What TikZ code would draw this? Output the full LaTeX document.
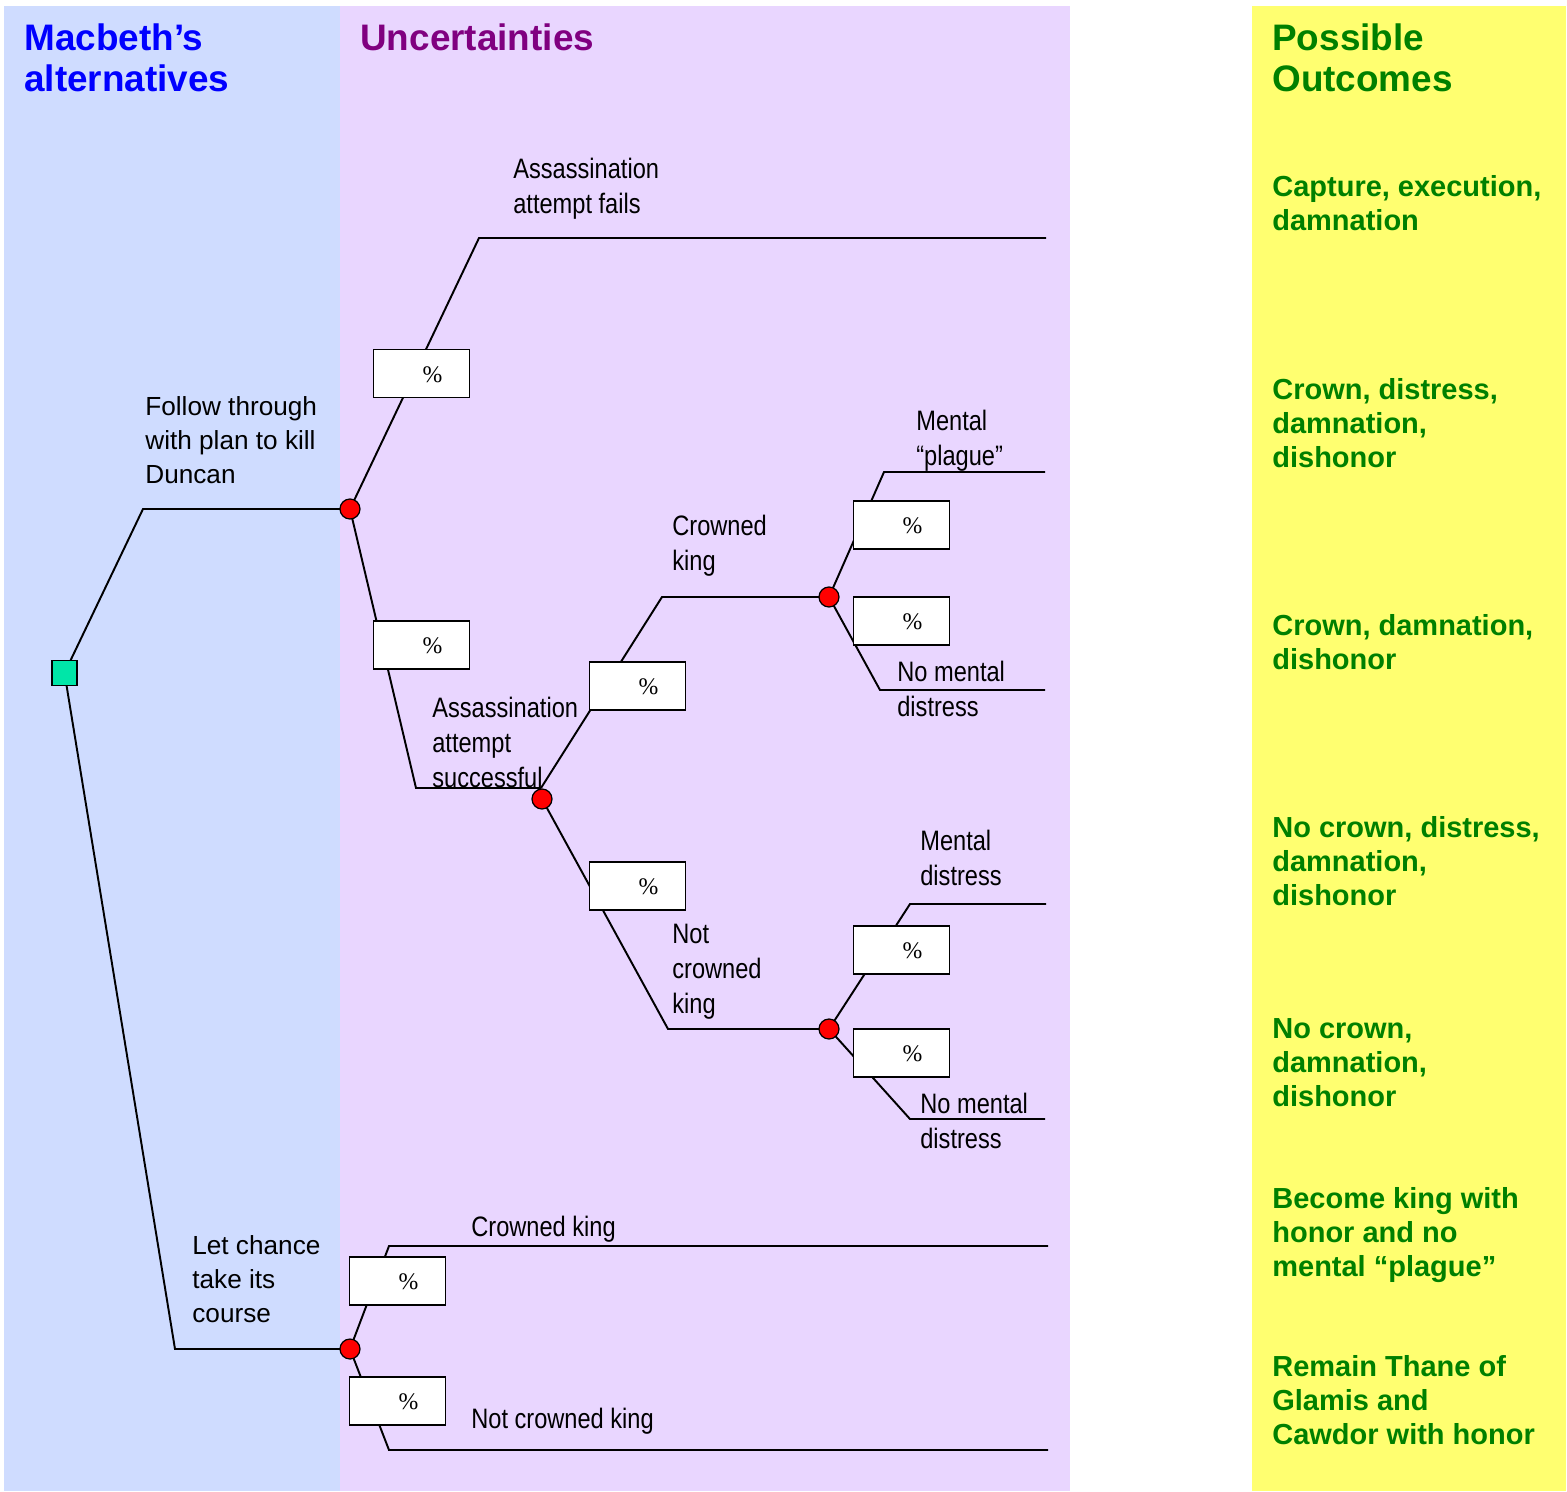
\documentclass[tikz,border=0pt]{standalone}
\usepackage{fontspec}
\usetikzlibrary{calc}
\setmainfont{Liberation Sans}
\newfontfamily\narrowfont[FakeStretch=0.84]{Liberation Sans}
\newfontfamily\pctfont{Liberation Serif}

\definecolor{altpanel}{RGB}{207,220,255}
\definecolor{uncpanel}{RGB}{233,214,255}
\definecolor{outpanel}{RGB}{255,255,112}
\definecolor{headblue}{RGB}{0,0,255}
\definecolor{headpurple}{RGB}{128,0,128}
\definecolor{outgreen}{RGB}{0,128,0}
\definecolor{decgreen}{RGB}{0,230,168}

\tikzset{
  head/.style={anchor=north west, inner sep=0pt, align=left,
    font=\bfseries\fontsize{21}{23.8}\selectfont},
  outcome/.style={anchor=north west, inner sep=0pt, align=left, text=outgreen,
    font=\bfseries\fontsize{16.5}{19.3}\selectfont},
  altlabel/.style={anchor=north west, inner sep=0pt, align=left,
    font=\fontsize{14.9}{19.3}\selectfont},
  unclabel/.style={anchor=north west, inner sep=0pt, align=left,
    font=\narrowfont\fontsize{16}{19.8}\selectfont},
  chance/.style={circle, fill=red, draw=black, line width=0.7pt,
    minimum size=0.4cm, inner sep=0pt},
  decision/.style={rectangle, fill=decgreen, draw=black, line width=1.1pt,
    minimum size=0.5cm, inner sep=0pt},
  probbox/.style={rectangle, fill=white, draw=black, line width=1.1pt,
    minimum width=1.92cm, minimum height=0.96cm, inner sep=0pt},
  pct/.style={inner sep=0pt, font=\pctfont\fontsize{13.5}{14}\selectfont},
  branch/.style={line width=1.1pt, line join=miter},
}

\begin{document}
\begin{tikzpicture}[x=0.02cm, y=-0.02cm]
  % page and the three coloured columns
  \useasboundingbox (0,0) rectangle (1567,1491);
  \fill[white] (0,0) rectangle (1567,1491);
  \fill[altpanel] (4,6) rectangle (340,1491);
  \fill[uncpanel] (340,6) rectangle (1070,1491);
  \fill[outpanel] (1252,6) rectangle (1566,1491);

  % column headings
  \node[head, text=headblue] (hAlt) at (24,23) {Macbeth’s\\alternatives};
  \node[head, text=headpurple] (hUnc) at (360,23) {Uncertainties};
  \node[head, text=outgreen] (hOut) at (1272,23) {Possible\\Outcomes};

  % bend points and free ends of the branches
  \coordinate (a1) at (143,509);
  \coordinate (b1) at (175,1349);
  \coordinate (t1) at (479,238);   \coordinate (e1) at (1046,238);
  \coordinate (t2) at (416,788);   \coordinate (Bj) at (541,788);
  \coordinate (t3) at (662,597);
  \coordinate (t4) at (668,1029);
  \coordinate (t5) at (884,472);   \coordinate (e5) at (1045,472);
  \coordinate (t6) at (880,690);   \coordinate (e6) at (1045,690);
  \coordinate (t7) at (910,904);   \coordinate (e7) at (1046,904);
  \coordinate (t8) at (910,1119);  \coordinate (e8) at (1045,1119);
  \coordinate (t9) at (389,1246);  \coordinate (e9) at (1048,1246);
  \coordinate (t10) at (389,1450); \coordinate (e10) at (1048,1450);

  % decision and chance nodes (positions only, drawn later on top)
  \coordinate (dec) at (64.5,673);
  \coordinate (cA) at (350,509);
  \coordinate (cB) at (542,799);
  \coordinate (cC) at (829,597);
  \coordinate (cD) at (829,1029);
  \coordinate (cE) at (350,1349);

  % branches
  \draw[branch] (dec) -- (a1) -- (cA);
  \draw[branch] (dec) -- (b1) -- (cE);
  \draw[branch] (cA) -- (t1) -- (e1);
  \draw[branch] (cA) -- (t2) -- (Bj);
  \draw[branch] (Bj) -- (t3) -- (cC);
  \draw[branch] (cB) -- (t4) -- (cD);
  \draw[branch] (cC) -- (t5) -- (e5);
  \draw[branch] (cC) -- (t6) -- (e6);
  \draw[branch] (cD) -- (t7) -- (e7);
  \draw[branch] (cD) -- (t8) -- (e8);
  \draw[branch] (cE) -- (t9) -- (e9);
  \draw[branch] (cE) -- (t10) -- (e10);

  % probability boxes
  \foreach \n/\x/\y in {p1/421.5/373.5, p2/421.5/645, p3/637.5/686, p4/637.5/886,
                        p5/901.5/525, p6/901.5/621, p7/901.5/950, p8/901.5/1053,
                        p9/397.5/1281, p10/397.5/1401}{
    \node[probbox] (\n) at (\x,\y) {};
    \node[pct] (\n pct) at ($(\x,\y)+(11,1)$) {\%};
  }

  % nodes
  \node[decision] (D0) at (dec) {};
  \node[chance] (A) at (cA) {};
  \node[chance] (B) at (cB) {};
  \node[chance] (C) at (cC) {};
  \node[chance] (D) at (cD) {};
  \node[chance] (E) at (cE) {};

  % alternative labels
  \node[altlabel] (lFollow) at (145,396) {Follow through\\with plan to kill\\Duncan};
  \node[altlabel] (lChance) at (192,1235) {Let chance\\take its\\course};

  % uncertainty labels
  \node[unclabel] (lFails) at (513,158) {Assassination\\attempt fails};
  \node[unclabel] (lPlague) at (916,410) {Mental\\“plague”};
  \node[unclabel] (lCrowned) at (672,515) {Crowned\\king};
  \node[unclabel] (lNoMentalA) at (897,661) {No mental\\distress};
  \node[unclabel] (lSuccess) at (432,697) {Assassination\\attempt\\successful};
  \node[unclabel] (lMental) at (920,830) {Mental\\distress};
  \node[unclabel] (lNotCrowned) at (672,924) {Not\\crowned\\king};
  \node[unclabel] (lNoMentalB) at (920,1093) {No mental\\distress};
  \node[unclabel] (lCrownedE) at (471,1216) {Crowned king};
  \node[unclabel] (lNotCrownedE) at (471,1408) {Not crowned king};

  % outcomes
  \node[outcome] (o1) at (1272,175) {Capture, execution,\\damnation};
  \node[outcome] (o2) at (1272,378) {Crown, distress,\\damnation,\\dishonor};
  \node[outcome] (o3) at (1272,614) {Crown, damnation,\\dishonor};
  \node[outcome] (o4) at (1272,816) {No crown, distress,\\damnation,\\dishonor};
  \node[outcome] (o5) at (1272,1018) {No crown,\\damnation,\\dishonor};
  \node[outcome] (o6) at (1272,1187) {Become king with\\honor and no\\mental “plague”};
  \node[outcome] (o7) at (1272,1355) {Remain Thane of\\Glamis and\\Cawdor with honor};
\end{tikzpicture}
\end{document}
